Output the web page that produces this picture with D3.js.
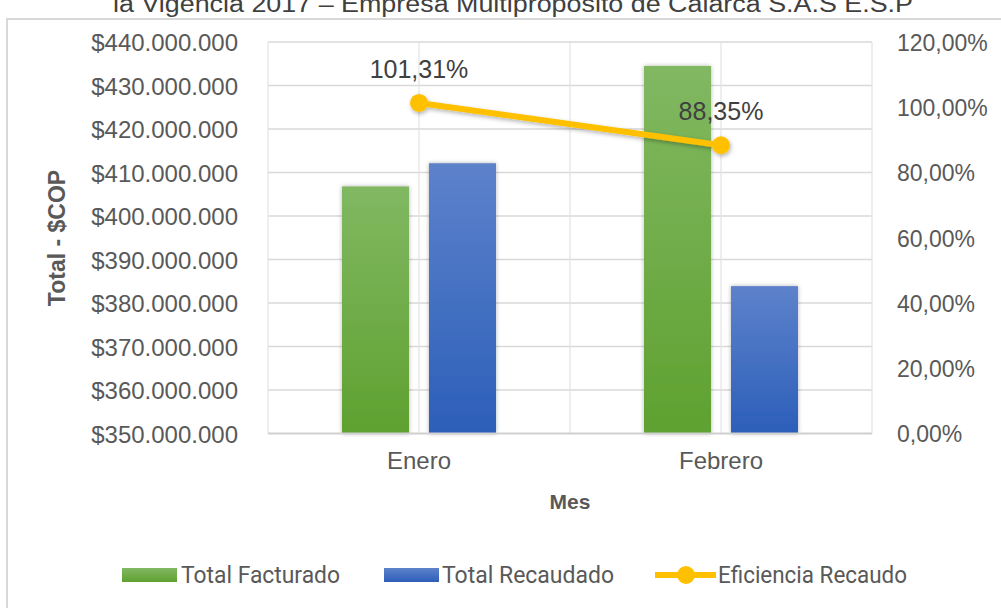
<!DOCTYPE html>
<html>
<head>
<meta charset="utf-8">
<script src="https://cdn.jsdelivr.net/npm/d3@7"></script>
<style>
  html, body { margin: 0; padding: 0; background: #fff; }
  svg { display: block; }
</style>
</head>
<body>
<svg id="chart" width="1001" height="608"></svg>
<script>
// Monthly billing vs. collection, with collection efficiency on the right axis
const months = ["Enero", "Febrero"];
const seriesNames = ["Total Facturado", "Total Recaudado", "Eficiencia Recaudo"];
const totalFacturado = [406800000, 434500000];
const totalRecaudado = [412130000, 383880000];
const eficienciaRecaudo = [1.0131, 0.8835];
const leftTicks = [350000000, 360000000, 370000000, 380000000, 390000000, 400000000, 410000000, 420000000, 430000000, 440000000];
const rightTicks = [0, 0.2, 0.4, 0.6, 0.8, 1.0, 1.2];
const titleText = "la Vigencia 2017 – Empresa Multipropósito de Calarcá S.A.S E.S.P";

const svg = d3.select("#chart");
const W = 1001, H = 608;
const plot = { left: 268, right: 872, top: 42, bottom: 433.5 };

const fmtMoney = v => "$" + d3.format(",")(v).replace(/,/g, ".");
const fmtPct = v => d3.format(".2f")(v * 100).replace(".", ",") + "%";

const defs = svg.append("defs");
function grad(id, top, bottom) {
  const g = defs.append("linearGradient").attr("id", id)
    .attr("x1", 0).attr("y1", 0).attr("x2", 0).attr("y2", 1);
  g.append("stop").attr("offset", "0%").attr("stop-color", top);
  g.append("stop").attr("offset", "100%").attr("stop-color", bottom);
}
grad("gGreen", "#81b862", "#5fa130");
grad("gBlue", "#5d82cb", "#2c5fb9");
const shBar = defs.append("filter").attr("id", "shBar")
  .attr("x", "-20%").attr("y", "-5%").attr("width", "140%").attr("height", "110%");
shBar.append("feDropShadow").attr("dx", 0).attr("dy", 0).attr("stdDeviation", 2)
  .attr("flood-color", "#000").attr("flood-opacity", 0.3);
const shLine = defs.append("filter").attr("id", "shLine")
  .attr("x", "-10%").attr("y", "-30%").attr("width", "120%").attr("height", "160%");
shLine.append("feDropShadow").attr("dx", 1).attr("dy", 2).attr("stdDeviation", 2)
  .attr("flood-color", "#000").attr("flood-opacity", 0.3);

// background and chart frame
svg.append("rect").attr("width", W).attr("height", H).attr("fill", "#fff");
svg.append("rect").attr("x", 7).attr("y", 19).attr("width", 1020).attr("height", 640)
  .attr("fill", "none").attr("stroke", "#d9d9d9").attr("stroke-width", 2);

// title (partially above the visible area)
svg.append("text").attr("x", 113).attr("y", 12)
  .attr("textLength", 800).attr("lengthAdjust", "spacingAndGlyphs")
  .attr("font-family", "Liberation Sans, Arial, sans-serif").attr("font-size", 23)
  .attr("fill", "#404040").text(titleText);

// scales
const x0 = d3.scaleBand().domain(months).range([plot.left, plot.right]).padding(0);
const x1 = d3.scaleBand().domain(seriesNames.slice(0, 2)).range([0, x0.bandwidth()])
  .paddingInner(0.23).paddingOuter(0.85);
const yL = d3.scaleLinear().domain([350000000, 440000000]).range([plot.bottom, plot.top]);
const yR = d3.scaleLinear().domain([0, 1.2]).range([plot.bottom, plot.top]);

// gridlines
const grid = svg.append("g");
grid.selectAll("line.h").data(leftTicks.slice(1)).join("line")
  .attr("x1", plot.left).attr("x2", plot.right)
  .attr("y1", d => yL(d)).attr("y2", d => yL(d))
  .attr("stroke", "#d9d9d9").attr("stroke-width", 1.5);
const vLines = [plot.left, plot.right]
  .concat(months.map(m => x0(m) + x0.bandwidth() / 2))
  .concat(months.slice(1).map(m => x0(m)));
grid.selectAll("line.v").data(vLines).join("line")
  .attr("x1", d => d).attr("x2", d => d)
  .attr("y1", plot.top).attr("y2", plot.bottom)
  .attr("stroke", "#e3e3e3").attr("stroke-width", 1.2);

// bars
const barData = months.map((m, i) => ({ month: m, values: [
  { key: seriesNames[0], v: totalFacturado[i], fill: "url(#gGreen)" },
  { key: seriesNames[1], v: totalRecaudado[i], fill: "url(#gBlue)" }
]}));
svg.append("g").selectAll("g").data(barData).join("g")
  .attr("transform", d => `translate(${x0(d.month)},0)`)
  .selectAll("rect").data(d => d.values).join("rect")
  .attr("x", d => x1(d.key)).attr("width", x1.bandwidth())
  .attr("y", d => yL(d.v)).attr("height", d => yL(350000000) - yL(d.v))
  .attr("fill", d => d.fill).attr("filter", "url(#shBar)");

// category axis line
svg.append("line").attr("x1", plot.left).attr("x2", plot.right)
  .attr("y1", plot.bottom).attr("y2", plot.bottom)
  .attr("stroke", "#d0d0d0").attr("stroke-width", 2);

// left axis
const axL = svg.append("g").attr("transform", `translate(${plot.left - 30},0)`)
  .call(d3.axisLeft(yL).tickValues(leftTicks).tickFormat(fmtMoney).tickSize(0).tickPadding(0));
axL.select(".domain").remove();
axL.selectAll("text").attr("font-family", "Liberation Sans, Arial, sans-serif")
  .attr("font-size", 24).attr("fill", "#595959").attr("dy", "0.36em");

// right axis
const axR = svg.append("g").attr("transform", `translate(${plot.right + 25},0)`)
  .call(d3.axisRight(yR).tickValues(rightTicks).tickFormat(fmtPct).tickSize(0).tickPadding(0));
axR.select(".domain").remove();
axR.selectAll("text").attr("font-family", "Liberation Sans, Arial, sans-serif")
  .attr("font-size", 23).attr("fill", "#595959").attr("dy", "0.36em");

// bottom category labels
const axB = svg.append("g").attr("transform", `translate(0,${plot.bottom + 18})`)
  .call(d3.axisBottom(x0).tickSize(0).tickPadding(0));
axB.select(".domain").remove();
axB.selectAll("text").attr("font-family", "Liberation Sans, Arial, sans-serif")
  .attr("font-size", 24).attr("fill", "#595959").attr("dy", "0.71em");

// axis titles
svg.append("text").attr("x", (plot.left + plot.right) / 2).attr("y", 509)
  .attr("text-anchor", "middle").attr("font-family", "Liberation Sans, Arial, sans-serif")
  .attr("font-weight", "bold").attr("font-size", 21).attr("fill", "#595959").text("Mes");
svg.append("text").attr("transform", "translate(65,238) rotate(-90)")
  .attr("text-anchor", "middle").attr("font-family", "Liberation Sans, Arial, sans-serif")
  .attr("font-weight", "bold").attr("font-size", 23).attr("fill", "#595959").text("Total - $COP");

// efficiency line
const pts = months.map((m, i) => ({ x: x0(m) + x0.bandwidth() / 2, v: eficienciaRecaudo[i] }));
const lineG = svg.append("g").attr("filter", "url(#shLine)");
lineG.append("path").datum(pts)
  .attr("d", d3.line().x(d => d.x).y(d => yR(d.v)))
  .attr("fill", "none").attr("stroke", "#ffc000").attr("stroke-width", 6).attr("stroke-linecap", "round");
lineG.selectAll("circle").data(pts).join("circle")
  .attr("cx", d => d.x).attr("cy", d => yR(d.v)).attr("r", 9).attr("fill", "#ffc000");
svg.append("g").selectAll("text").data(pts).join("text")
  .attr("x", d => d.x).attr("y", d => yR(d.v) - 25)
  .attr("text-anchor", "middle").attr("font-family", "Liberation Sans, Arial, sans-serif")
  .attr("font-size", 25).attr("fill", "#404040").text(d => fmtPct(d.v));

// legend
const legY = 575;
const legFont = "Liberation Sans Narrow, Roboto, Arial, sans-serif";
const leg = svg.append("g");
const legItems = [
  { name: seriesNames[0], type: "rect", fill: "url(#gGreen)", sx: 122, tx: 181, tw: 159 },
  { name: seriesNames[1], type: "rect", fill: "url(#gBlue)", sx: 384, tx: 442, tw: 172 },
  { name: seriesNames[2], type: "line", sx: 655, tx: 718, tw: 189 }
];
legItems.forEach(it => {
  if (it.type === "rect") {
    leg.append("rect").attr("x", it.sx).attr("y", legY - 7).attr("width", 55).attr("height", 14).attr("fill", it.fill);
  } else {
    leg.append("line").attr("x1", it.sx).attr("x2", it.sx + 61).attr("y1", legY).attr("y2", legY)
      .attr("stroke", "#ffc000").attr("stroke-width", 6);
    leg.append("circle").attr("cx", it.sx + 31).attr("cy", legY).attr("r", 9).attr("fill", "#ffc000");
  }
  leg.append("text").attr("x", it.tx).attr("y", legY).attr("dy", "0.35em")
    .attr("textLength", it.tw).attr("lengthAdjust", "spacingAndGlyphs")
    .attr("font-family", legFont).attr("font-size", 23).attr("fill", "#595959").text(it.name);
});
</script>
</body>
</html>
